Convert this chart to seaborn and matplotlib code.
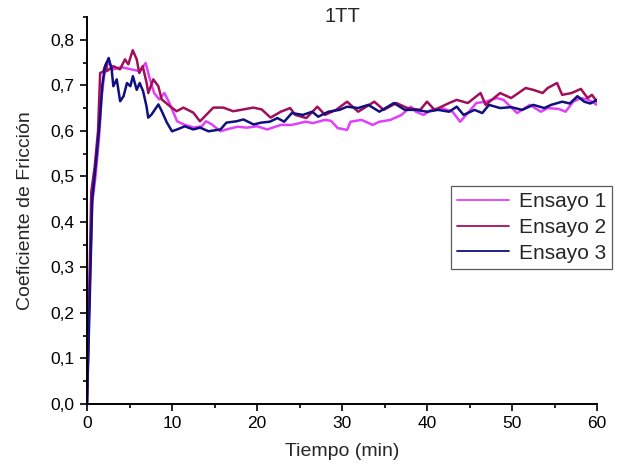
import numpy as np
import pandas as pd
import matplotlib
matplotlib.use("Agg")
import matplotlib.pyplot as plt
import seaborn as sns
from matplotlib.ticker import MultipleLocator, FuncFormatter
from matplotlib.lines import Line2D

# ---- data ----
t_e1 = [0, 0.3, 0.6, 1.0, 1.4, 1.7, 2.0, 2.3, 2.6, 3.1, 4.0, 5.2, 6.2, 6.9, 7.3, 7.9, 8.5, 9.1, 9.7,
        10.6, 11.4, 12.6, 13.5, 14.0, 14.7, 15.7, 16.4, 17.7, 18.8, 20.0, 21.2, 22.8, 24.1, 25.7,
        26.6, 28.0, 28.7, 29.5, 30.6, 31.0, 32.3, 33.6, 34.4, 35.7, 37.0, 38.1, 38.7, 39.6, 40.5,
        41.7, 43.0, 43.9, 44.8, 45.8, 46.9, 48.2, 49.0, 50.6, 52.1, 53.4, 54.2, 55.5, 56.3, 57.2,
        58.1, 59.0, 60.0]
y_e1 = [0.0, 0.25, 0.44, 0.50, 0.58, 0.67, 0.72, 0.742, 0.749, 0.735, 0.74, 0.735, 0.731, 0.749, 0.72,
        0.683, 0.669, 0.683, 0.661, 0.621, 0.614, 0.607, 0.610, 0.621, 0.614, 0.599, 0.603, 0.609,
        0.607, 0.610, 0.603, 0.613, 0.613, 0.620, 0.617, 0.624, 0.622, 0.606, 0.602, 0.620, 0.624,
        0.613, 0.620, 0.624, 0.635, 0.653, 0.642, 0.635, 0.646, 0.650, 0.642, 0.620, 0.639, 0.661,
        0.664, 0.672, 0.668, 0.639, 0.657, 0.642, 0.650, 0.648, 0.642, 0.664, 0.672, 0.668, 0.657]

t_e2 = [0, 0.25, 0.5, 0.9, 1.3, 1.55, 1.9, 2.27, 2.32, 3.09, 3.88, 4.47, 4.86, 5.38, 5.85, 6.15,
        6.55, 7.02, 7.21, 7.8, 8.39, 8.79, 9.76, 10.55, 11.33, 12.5, 13.29, 14.08, 14.86, 16.04,
        17.2, 18.4, 19.56, 20.55, 21.6, 22.8, 23.9, 24.5, 25.8, 27.1, 28.0, 29.3, 30.6, 31.9, 33.8,
        34.9, 36.4, 37.7, 39.2, 40.0, 40.9, 41.7, 42.6, 43.5, 44.8, 46.3, 46.9, 48.6, 49.9, 51.6,
        52.5, 53.6, 54.2, 55.3, 55.9, 57.0, 58.1, 58.9, 59.4, 60.0]
y_e2 = [0.0, 0.23, 0.466, 0.52, 0.60, 0.727, 0.73, 0.749, 0.731, 0.742, 0.735, 0.757, 0.746, 0.777,
        0.757, 0.727, 0.742, 0.705, 0.683, 0.713, 0.698, 0.669, 0.654, 0.643, 0.651, 0.640, 0.621,
        0.636, 0.651, 0.651, 0.643, 0.647, 0.651, 0.647, 0.629, 0.642, 0.650, 0.635, 0.628, 0.653,
        0.635, 0.646, 0.664, 0.642, 0.664, 0.646, 0.661, 0.650, 0.646, 0.664, 0.646, 0.653, 0.661,
        0.668, 0.661, 0.683, 0.657, 0.683, 0.672, 0.694, 0.690, 0.683, 0.694, 0.705, 0.679, 0.683,
        0.692, 0.672, 0.679, 0.664]

t_e3 = [0, 0.35, 0.62, 1.0, 1.5, 1.8, 2.1, 2.55, 2.9, 3.1, 3.5, 3.9, 4.3, 4.7, 5.1, 5.4, 5.85, 6.2,
        6.6, 7.0, 7.2, 7.6, 8.4, 8.8, 9.4, 10.0, 10.6, 11.5, 12.5, 13.3, 14.3, 15.7, 16.4, 17.6,
        18.4, 19.6, 20.5, 21.5, 22.4, 23.2, 24.1, 25.4, 26.5, 27.2, 28.4, 29.7, 30.6, 31.9, 33.1,
        34.4, 36.1, 37.4, 38.7, 40.0, 41.3, 42.6, 43.5, 44.3, 45.6, 46.5, 47.3, 48.6, 49.9, 51.2,
        52.5, 53.8, 54.6, 55.9, 56.8, 57.7, 58.5, 59.2, 60.0]
y_e3 = [0.0, 0.25, 0.45, 0.52, 0.62, 0.70, 0.74, 0.760, 0.735, 0.698, 0.713, 0.665, 0.676, 0.705,
        0.698, 0.72, 0.69, 0.705, 0.687, 0.654, 0.629, 0.636, 0.658, 0.643, 0.618, 0.599, 0.603,
        0.610, 0.603, 0.607, 0.599, 0.603, 0.618, 0.621, 0.625, 0.614, 0.618, 0.620, 0.628, 0.620,
        0.639, 0.635, 0.642, 0.631, 0.642, 0.646, 0.653, 0.650, 0.657, 0.642, 0.661, 0.646, 0.646,
        0.642, 0.646, 0.642, 0.653, 0.635, 0.646, 0.639, 0.657, 0.650, 0.652, 0.646, 0.657, 0.650,
        0.657, 0.664, 0.660, 0.676, 0.664, 0.660, 0.668]

labels = ["Ensayo 1", "Ensayo 2", "Ensayo 3"]
colors = ["#e040fb", "#a0105a", "#10107f"]
x_ticks = [0, 10, 20, 30, 40, 50, 60]
y_ticks = [0.0, 0.1, 0.2, 0.3, 0.4, 0.5, 0.6, 0.7, 0.8]

df = pd.concat([
    pd.DataFrame({"t": t_e1, "y": y_e1, "serie": labels[0]}),
    pd.DataFrame({"t": t_e2, "y": y_e2, "serie": labels[1]}),
    pd.DataFrame({"t": t_e3, "y": y_e3, "serie": labels[2]}),
], ignore_index=True)

sns.set_style("ticks")
plt.rcParams["font.family"] = ["Liberation Sans", "DejaVu Sans"]

fig = plt.figure(figsize=(6.17, 4.71), dpi=100)
ax = fig.add_axes([87 / 617, 1 - 404 / 471, 510 / 617, (404 - 17) / 471])

sns.lineplot(data=df, x="t", y="y", hue="serie", palette=dict(zip(labels, colors)),
             linewidth=1.8, ax=ax, legend=False, sort=False, estimator=None)

ax.set_xlim(0, 60)
ax.set_ylim(0, 0.85)
ax.set_xticks(x_ticks)
ax.set_yticks(y_ticks)
ax.xaxis.set_minor_locator(MultipleLocator(5))
ax.yaxis.set_minor_locator(MultipleLocator(0.05))
ax.yaxis.set_major_formatter(FuncFormatter(lambda v, p: f"{v:.1f}".replace(".", ",")))
ax.tick_params(which="major", direction="out", length=5, width=1.2, labelsize=12.5, color="black",
               labelcolor="black", pad=4)
ax.tick_params(which="minor", direction="out", length=3, width=1.2, color="black")
for s in ["top", "right"]:
    ax.spines[s].set_visible(False)
for s in ["left", "bottom"]:
    ax.spines[s].set_linewidth(1.4)
    ax.spines[s].set_color("black")

ax.set_xlabel("Tiempo (min)", fontsize=14, labelpad=8)
ax.set_ylabel("Coeficiente de Fricción", fontsize=14, labelpad=12)
ax.text(0.5, 1.0, "1TT", transform=ax.transAxes, ha="center", va="center", fontsize=14.5)

handles = [Line2D([0], [0], color=c, lw=1.3) for c in colors]
leg = fig.legend(handles, labels, loc="upper left", bbox_to_anchor=(451 / 617, 1 - 186 / 471),
                 fontsize=15, frameon=True, fancybox=False, edgecolor="#333333",
                 handlelength=2.5, handletextpad=0.45, labelspacing=0.32, borderpad=0.3,
                 borderaxespad=0)
leg.get_frame().set_linewidth(0.9)

fig.savefig("out.png", dpi=100)
